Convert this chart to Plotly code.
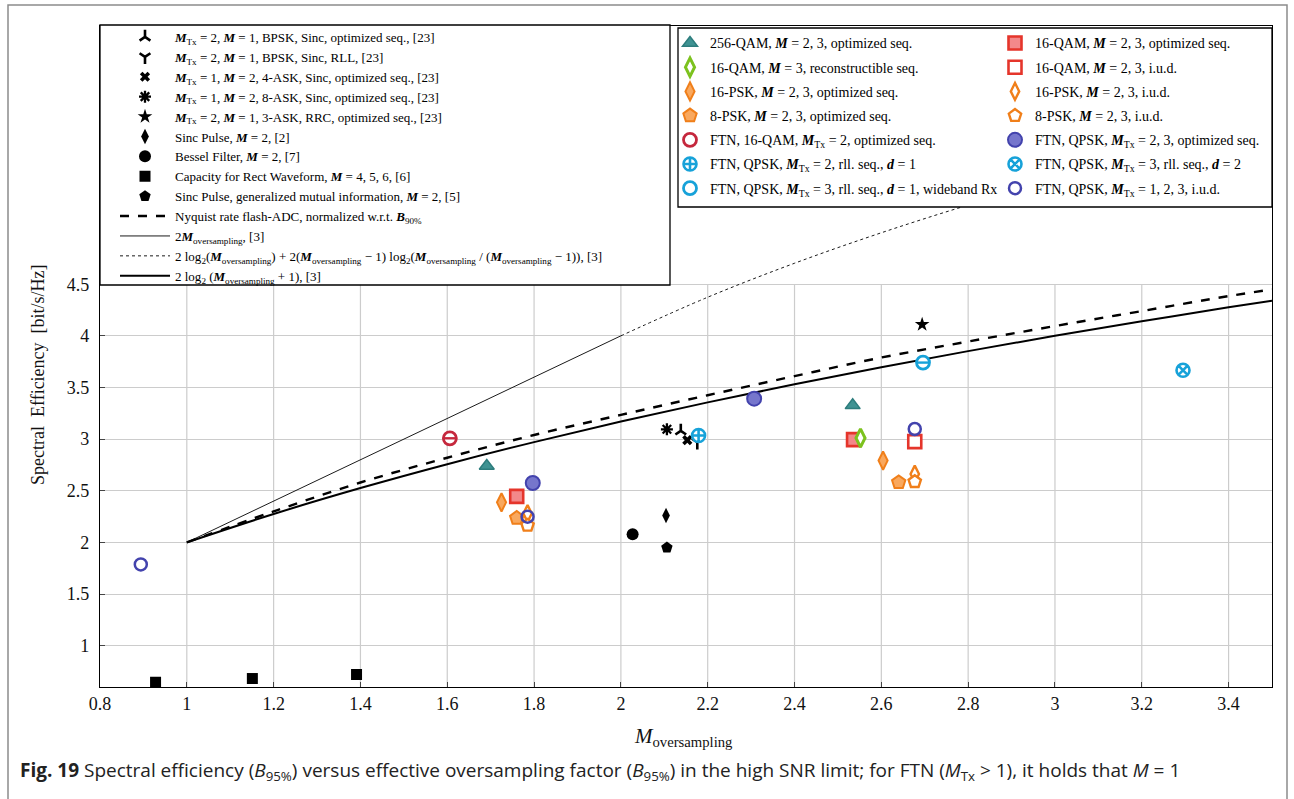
import plotly.graph_objects as go

# ---------------- data ----------------
# black reference markers
bpsk_opt_x = [2.138]; bpsk_opt_y = [3.08]
bpsk_rll_x = [2.176]; bpsk_rll_y = [2.97]
ask4_x = [2.153]; ask4_y = [2.99]
ask8_x = [2.106]; ask8_y = [3.095]
ask3_x = [2.694]; ask3_y = [4.11]
sinc_x = [2.104]; sinc_y = [2.26]
bessel_x = [2.027]; bessel_y = [2.08]
rect_x = [0.928, 1.151, 1.391]; rect_y = [0.646, 0.682, 0.721]
sinc_gmi_x = [2.106]; sinc_gmi_y = [1.95]

# coloured markers
qam256_x = [1.691, 2.534]; qam256_y = [2.739, 3.327]
qam16_opt_x = [1.760, 2.536]; qam16_opt_y = [2.446, 2.995]
qam16_rec_x = [2.552]; qam16_rec_y = [3.011]
qam16_iud_x = [2.677]; qam16_iud_y = [2.976]
psk16_opt_x = [1.725, 2.604]; psk16_opt_y = [2.388, 2.792]
psk16_iud_x = [1.785, 2.677]; psk16_iud_y = [2.28, 2.662]
psk8_opt_x = [1.760, 2.640]; psk8_opt_y = [2.236, 2.581]
psk8_iud_x = [1.785, 2.677]; psk8_iud_y = [2.165, 2.588]
ftn16_x = [1.606]; ftn16_y = [3.008]
ftnq_opt_x = [1.797, 2.307]; ftnq_opt_y = [2.575, 3.392]
ftnq_rll1_x = [2.179]; ftnq_rll1_y = [3.035]
ftnq_rll2_x = [3.295]; ftnq_rll2_y = [3.667]
ftnq_wide_x = [2.696]; ftnq_wide_y = [3.741]
ftnq_iud_x = [0.894, 1.785, 2.677]; ftnq_iud_y = [1.787, 2.249, 3.098]

# curves
curve_x = [1.0, 1.2, 1.4, 1.6, 1.8, 2.0, 2.2, 2.4, 2.6, 2.8, 3.0, 3.2, 3.4, 3.5]
log_bound_y = [2.0, 2.275, 2.526, 2.757, 2.971, 3.170, 3.356, 3.531, 3.696, 3.852, 4.0, 4.141, 4.276, 4.340]
nyquist_y = [2.0, 2.30, 2.58, 2.82, 3.04, 3.235, 3.425, 3.61, 3.79, 3.945, 4.095, 4.24, 4.385, 4.45]
lin_x = [1.0, 2.0]; lin_y = [2.0, 4.0]
dot_x = [2.0, 2.2, 2.4, 2.6, 2.8, 3.0, 3.2, 3.4, 3.5]
dot_y = [4.0, 4.374, 4.703, 4.998, 5.266, 5.510, 5.735, 5.943, 6.04]

x_ticks = [0.8, 1.0, 1.2, 1.4, 1.6, 1.8, 2.0, 2.2, 2.4, 2.6, 2.8, 3.0, 3.2, 3.4]
x_tick_text = ["0.8", "1", "1.2", "1.4", "1.6", "1.8", "2", "2.2", "2.4", "2.6", "2.8", "3", "3.2", "3.4"]
y_ticks = [1.0, 1.5, 2.0, 2.5, 3.0, 3.5, 4.0, 4.5]
y_tick_text = ["1", "1.5", "2", "2.5", "3", "3.5", "4", "4.5"]
X_RANGE = [0.8, 3.5]
Y_RANGE = [0.6, 7.0]

# ---------------- helpers ----------------
L, R, T, B = 100, 22, 26, 112
W, H = 1294, 799
PW, PH = W - L - R, H - T - B


def xp(px):
    return (px - L) / PW


def yp(py):
    return (H - B - py) / PH


SERIF = "Liberation Serif, Times New Roman, Times, serif"
MB = "<b><i>M</i></b>"
MTX = "<b><i>M</i></b><sub>Tx</sub>"
MOS = "<b><i>M</i></b><sub>oversampling</sub>"
DB = "<b><i>d</i></b>"

fig = go.Figure()

# ---------------- curves ----------------
fig.add_trace(go.Scatter(x=curve_x, y=nyquist_y, mode="lines", line=dict(color="black", width=2.4, dash="dash", shape="spline"),
                         name="Nyquist rate flash-ADC, normalized w.r.t. <b><i>B</i></b><sub>90%</sub>", legend="legend", legendrank=10))
fig.add_trace(go.Scatter(x=lin_x, y=lin_y, mode="lines", line=dict(color="black", width=0.9),
                         name="2" + MOS + ", [3]", legend="legend", legendrank=11))
fig.add_trace(go.Scatter(x=dot_x, y=dot_y, mode="lines", line=dict(color="black", width=0.9, dash="dot", shape="spline"),
                         name="2 log<sub>2</sub>(" + MOS + ") + 2(" + MOS + " − 1) log<sub>2</sub>(" + MOS + " / (" + MOS + " − 1)), [3]",
                         legend="legend", legendrank=12))
fig.add_trace(go.Scatter(x=curve_x, y=log_bound_y, mode="lines", line=dict(color="black", width=2.0, shape="spline"),
                         name="2 log<sub>2</sub> (" + MOS + " + 1), [3]", legend="legend", legendrank=13))


# ---------------- black markers ----------------
def blk(x, y, name, symbol, size, rank, lw=0):
    fig.add_trace(go.Scatter(x=x, y=y, mode="markers", name=name, legend="legend", legendrank=rank, cliponaxis=False,
                             marker=dict(symbol=symbol, size=size, color="black",
                                         line=dict(color="black", width=lw))))


blk(bpsk_opt_x, bpsk_opt_y, MTX + " = 2, " + MB + " = 1, BPSK, Sinc, optimized seq., [23]", "y-up", 9, 1, 2.6)
blk(bpsk_rll_x, bpsk_rll_y, MTX + " = 2, " + MB + " = 1, BPSK, Sinc, RLL, [23]", "y-down", 9, 2, 2.6)
blk(ask4_x, ask4_y, MTX + " = 1, " + MB + " = 2, 4-ASK, Sinc, optimized seq., [23]", "x", 9, 3)
blk(ask8_x, ask8_y, MTX + " = 1, " + MB + " = 2, 8-ASK, Sinc, optimized seq., [23]", "asterisk-open", 10, 4, 2.3)
blk(ask3_x, ask3_y, MTX + " = 2, " + MB + " = 1, 3-ASK, RRC, optimized seq., [23]", "star", 11, 5)
blk(sinc_x, sinc_y, "Sinc Pulse, " + MB + " = 2, [2]", "diamond-tall", 11, 6)
blk(bessel_x, bessel_y, "Bessel Filter, " + MB + " = 2, [7]", "circle", 12, 7)
blk(rect_x, rect_y, "Capacity for Rect Waveform, " + MB + " = 4, 5, 6, [6]", "square", 11, 8)
blk(sinc_gmi_x, sinc_gmi_y, "Sinc Pulse, generalized mutual information, " + MB + " = 2, [5]", "pentagon", 12, 9)

# ---------------- coloured markers ----------------
ORANGE = "#f07f1a"
RED = "#e5352b"
CYAN = "#17a2d9"
BLUE = "#4343ad"


def col(x, y, name, symbol, size, fill, line, lw, leg, rank):
    fig.add_trace(go.Scatter(x=x, y=y, mode="markers", name=name, legend=leg, legendrank=rank,
                             legendgroup="g%d" % rank, cliponaxis=False,
                             marker=dict(symbol=symbol, size=size, color=fill, line=dict(color=line, width=lw))))


col(psk16_opt_x, psk16_opt_y, "16-PSK, " + MB + " = 2, 3, optimized seq.", "diamond-tall", 13, "#f9a85e", ORANGE, 2, "legend2", 103)
col(psk16_iud_x, psk16_iud_y, "16-PSK, " + MB + " = 2, 3, i.u.d.", "diamond-tall", 12, "white", ORANGE, 2.4, "legend3", 203)
col(psk8_opt_x, psk8_opt_y, "8-PSK, " + MB + " = 2, 3, optimized seq.", "pentagon", 14, "#f9a85e", ORANGE, 2, "legend2", 104)
col(psk8_iud_x, psk8_iud_y, "8-PSK, " + MB + " = 2, 3, i.u.d.", "pentagon", 13, "white", ORANGE, 2.4, "legend3", 204)
col(qam256_x, qam256_y, "256-QAM, " + MB + " = 2, 3, optimized seq.", "triangle-up", 13, "#3f9393", "#2d7d7d", 1.5, "legend2", 101)
col(qam16_opt_x, qam16_opt_y, "16-QAM, " + MB + " = 2, 3, optimized seq.", "square", 13, "#f3888a", RED, 2.6, "legend3", 201)
col(qam16_rec_x, qam16_rec_y, "16-QAM, " + MB + " = 3, reconstructible seq.", "diamond-tall", 13, "white", "#7cc21e", 3, "legend2", 102)
col(qam16_iud_x, qam16_iud_y, "16-QAM, " + MB + " = 2, 3, i.u.d.", "square", 13, "white", RED, 2.6, "legend3", 202)
col(ftn16_x, ftn16_y, "FTN, 16-QAM, " + MTX + " = 2, optimized seq.", "circle", 13, "white", "#c5283d", 2.8, "legend2", 105)
col(ftnq_opt_x, ftnq_opt_y, "FTN, QPSK, " + MTX + " = 2, 3, optimized seq.", "circle", 14, "#7676cc", BLUE, 2, "legend3", 205)
col(ftnq_rll1_x, ftnq_rll1_y, "FTN, QPSK, " + MTX + " = 2, rll. seq., " + DB + " = 1", "circle-cross", 13, "white", CYAN, 2.6, "legend2", 106)
col(ftnq_rll2_x, ftnq_rll2_y, "FTN, QPSK, " + MTX + " = 3, rll. seq., " + DB + " = 2", "circle-x", 13, "white", CYAN, 2.6, "legend3", 206)
col(ftnq_wide_x, ftnq_wide_y, "FTN, QPSK, " + MTX + " = 3, rll. seq., " + DB + " = 1, wideband Rx", "circle", 13, "white", CYAN, 2.8, "legend2", 107)
col(ftnq_iud_x, ftnq_iud_y, "FTN, QPSK, " + MTX + " = 1, 2, 3, i.u.d.", "circle-open", 12, BLUE, BLUE, 2.5, "legend3", 207)

# bar inside the "circle-minus" style markers
for xs, ys, c in [(ftn16_x, ftn16_y, "#c5283d"), (ftnq_wide_x, ftnq_wide_y, CYAN)]:
    fig.add_trace(go.Scatter(x=xs, y=ys, mode="markers", showlegend=False, cliponaxis=False,
                             marker=dict(symbol="line-ew", size=9, color=c, line=dict(color=c, width=2.4))))

# ---------------- shapes: grid, legend boxes, page frame ----------------
shapes = []
for t in x_ticks[1:]:
    shapes.append(dict(type="line", xref="x", yref="y", x0=t, x1=t, y0=Y_RANGE[0], y1=y_ticks[-1],
                       line=dict(color="#cccccc", width=1.2), layer="below"))
shapes.append(dict(type="rect", xref="paper", yref="paper", x0=xp(100), x1=xp(670), y0=yp(285), y1=yp(25),
                   fillcolor="white", line=dict(color="black", width=1.3), layer="above"))
shapes.append(dict(type="rect", xref="paper", yref="paper", x0=xp(678), x1=xp(1272), y0=yp(207), y1=yp(28),
                   fillcolor="white", line=dict(color="black", width=1.3), layer="above"))
shapes.append(dict(type="path", xref="paper", yref="paper",
                   path="M %f %f L %f %f L %f %f L %f %f" % (xp(8), yp(799), xp(8), yp(5), xp(1287), yp(5), xp(1287), yp(799)),
                   line=dict(color="#8c8c8c", width=1.5), layer="above"))

annotations = [
    dict(text="Spectral  Efficiency  [bit/s/Hz]", xref="paper", yref="paper", x=xp(38), y=yp(375),
         xanchor="center", yanchor="middle",
         textangle=-90, showarrow=False, font=dict(family=SERIF, size=18, color="#111")),
    dict(text="<i>M</i><sub>oversampling</sub>", xref="paper", yref="paper", x=xp(683), y=yp(737),
         xanchor="center", yanchor="middle",
         showarrow=False, font=dict(family=SERIF, size=21, color="#111")),
    dict(text="<b>Fig. 19</b> Spectral efficiency (<i>B</i><sub>95%</sub>) versus effective oversampling factor (<i>B</i><sub>95%</sub>) "
              "in the high SNR limit; for FTN (<i>M</i><sub>Tx</sub> > 1), it holds that <i>M</i> = 1",
         xref="paper", yref="paper", x=xp(18), y=yp(771), xanchor="left", yanchor="middle", showarrow=False,
         font=dict(family="Open Sans", size=19, color="#222")),
]

leg_common = dict(bgcolor="rgba(0,0,0,0)", borderwidth=0,
                  xanchor="left", yanchor="top", orientation="v", itemsizing="trace")

fig.update_layout(
    width=W, height=H, margin=dict(l=L, r=R, t=T, b=B),
    paper_bgcolor="white", plot_bgcolor="white",
    font=dict(family=SERIF, color="#111"),
    xaxis=dict(range=X_RANGE, tickvals=x_ticks, ticktext=x_tick_text, showgrid=False, zeroline=False,
               showline=True, linecolor="black", linewidth=1.3, mirror=True, ticks="inside", ticklen=5,
               tickcolor="#444", tickfont=dict(family=SERIF, size=18, color="#111")),
    yaxis=dict(range=Y_RANGE, tickvals=y_ticks, ticktext=y_tick_text, showgrid=True, gridcolor="#cccccc", gridwidth=1.2,
               zeroline=False, showline=True, linecolor="black", linewidth=1.3, mirror=True, ticks="inside", ticklen=5,
               tickcolor="#444", tickfont=dict(family=SERIF, size=18, color="#111"), ticklabelstandoff=6),
    legend=dict(x=xp(115), y=yp(22), itemwidth=50, font=dict(family=SERIF, size=13, color="black"), **leg_common),
    legend2=dict(x=xp(670), y=yp(27.4), tracegroupgap=3, font=dict(family=SERIF, size=14, color="black"), **leg_common),
    legend3=dict(x=xp(995), y=yp(27.4), tracegroupgap=3, font=dict(family=SERIF, size=14, color="black"), **leg_common),
    shapes=shapes, annotations=annotations,
)

fig.write_html("out.html")
